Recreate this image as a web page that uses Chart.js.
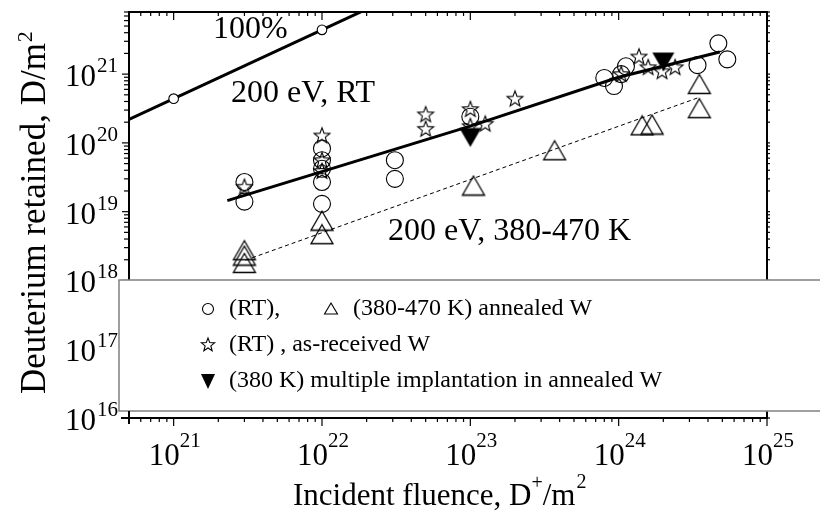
<!DOCTYPE html>
<html><head><meta charset="utf-8">
<script src="https://cdn.jsdelivr.net/npm/chart.js@4.4.0/dist/chart.umd.min.js"></script>
<style>html,body{margin:0;padding:0;background:#fff}</style>
</head><body>
<canvas id="c" width="820" height="515"></canvas>
<script>
// ---------- data ----------
const fluenceRT_annealed  = [3e21,3e21,1e22,1e22,1e22,1e22,1e22,3.1e22,3.1e22,1e23,8.0e23,9.3e23,1.04e24,1.12e24,3.4e24,4.7e24,5.4e24];
const retainedRT_annealed = [2.7e19,1.4e19,8.3e19,5.6e19,4.2e19,2.7e19,1.3e19,5.6e19,3.0e19,2.4e20,8.8e20,6.7e20,1.0e21,1.3e21,1.35e21,2.8e21,1.64e21];
const fluenceHT_annealed  = [3e21,3e21,3e21,1e22,1e22,1.05e23,3.7e23,1.44e24,1.68e24,3.5e24,3.5e24];
const retainedHT_annealed = [2.75e18,2.3e18,1.8e18,7.4e18,4.7e18,2.4e19,7.8e19,1.8e20,1.85e20,7.2e20,3.2e20];
const fluenceRT_asReceived  = [3e21,1e22,1e22,1e22,5e22,5e22,1e23,1e23,1.26e23,2e23,1.04e24,1.37e24,1.58e24,1.96e24,2.4e24];
const retainedRT_asReceived = [2.3e19,1.28e20,5.6e19,3.9e19,2.6e20,1.6e20,3.1e20,1.75e20,1.9e20,4.4e20,1.0e21,1.8e21,1.26e21,1.1e21,1.26e21];
const fluenceMultiple  = [1e23,2.0e24];
const retainedMultiple = [1.2e20,1.5e21];
const fluence100  = [1e21,1e22];
const retained100 = [4.4e20,4.4e21];
const fit100_fluence  = [5e20,2e22];
const fit100_retained = [2.2e20,8.8e21];
const fitRT_fluence  = [2.3e21,1e23,1e24,4.8e24];
const fitRT_retained = [1.45e19,1.75e20,9.0e20,2.1e21];
const fitHT_fluence  = [3.05e21,3.4e24];
const fitHT_retained = [1.97e18,4.5e20];
const xTickExponents = [21,22,23,24,25];
const yTickExponents = [16,17,18,19,20,21];
const annotations = ["100%","200 eV, RT","200 eV, 380-470 K"];
const legendTexts = ["(RT),","(380-470 K) annealed W","(RT) , as-received W","(380 K) multiple implantation in annealed W"];

const pts = (xs, ys) => xs.map((x,i)=>({x, y: ys[i]}));
const SERIF = '"Liberation Serif", "Times New Roman", serif';

// ---------- marker images ----------
function mk(w,h,fn){const c=document.createElement('canvas');c.width=w;c.height=h;const g=c.getContext('2d');fn(g);return c;}
function starPath(g,cx,cy,R,r){g.beginPath();for(let i=0;i<10;i++){const a=-Math.PI/2+i*Math.PI/5;const rr=i%2?r:R;const px=cx+rr*Math.cos(a),py=cy+rr*Math.sin(a);i?g.lineTo(px,py):g.moveTo(px,py);}g.closePath();}
const starImg = mk(20,20,g=>{starPath(g,10,10.5,8.3,3.5);g.lineWidth=1.1;g.strokeStyle='#000';g.stroke();});
const triUpImg = mk(26,22,g=>{g.beginPath();g.moveTo(13,1.5);g.lineTo(24,20.5);g.lineTo(2,20.5);g.closePath();g.lineWidth=1.3;g.strokeStyle='#000';g.stroke();});
const triDownImg = mk(26,22,g=>{g.beginPath();g.moveTo(2,1.5);g.lineTo(24,1.5);g.lineTo(13,20.5);g.closePath();g.fillStyle='#000';g.fill();});

// ---------- frame / text plugin ----------
function line(g,x1,y1,x2,y2){g.beginPath();g.moveTo(x1,y1);g.lineTo(x2,y2);g.stroke();}
const framePlugin = {
  id:'frame',
  beforeDatasetsDraw(chart){
    const g=chart.ctx, a=chart.chartArea, sx=chart.scales.x, sy=chart.scales.y;
    g.save(); g.strokeStyle='#000';
    g.lineWidth=2;
    g.strokeRect(a.left,a.top,a.right-a.left,a.bottom-a.top);
    g.lineWidth=1.2;
    for(let d=20; d<=25; d++){
      for(let m=1; m<=9; m++){
        const v=m*Math.pow(10,d); if(v<sx.min*0.999||v>sx.max*1.001) continue;
        const px=sx.getPixelForValue(v), major=(m===1);
        line(g,px,a.bottom,px,a.bottom+(major?8:4));
        line(g,px,a.top,px,a.top+(major?8:4));
      }
    }
    for(let d=16; d<=21; d++){
      for(let m=1; m<=9; m++){
        const v=m*Math.pow(10,d); if(v<sy.min*0.999||v>sy.max*1.001) continue;
        const py=sy.getPixelForValue(v), major=(m===1);
        line(g,a.left,py,a.left-(major?7:5),py);
        line(g,a.right,py,a.right+3,py);
      }
    }
    g.restore();
  },
  afterDatasetsDraw(chart){
    const g=chart.ctx, a=chart.chartArea, sx=chart.scales.x, sy=chart.scales.y;
    g.save();
    // legend box overlaying the lower plot
    g.fillStyle='#fff'; g.fillRect(119,280,710,131);
    g.strokeStyle='#808080'; g.lineWidth=1.5; g.strokeRect(119,280,710,131);
    g.strokeStyle='#000'; g.lineWidth=2;
    line(g,121,a.bottom,a.right,a.bottom);
    line(g,a.left,411,a.left,a.bottom+6);
    g.fillStyle='#000';
    // y tick labels
    yTickExponents.forEach(e=>{
      const py=sy.getPixelForValue(Math.pow(10,e));
      g.font='21px '+SERIF; g.textAlign='right'; g.textBaseline='alphabetic';
      const ws=g.measureText(String(e)).width;
      g.fillText(String(e),118,py-2);
      g.font='31px '+SERIF;
      g.fillText('10',118-ws-1,py+12);
    });
    // x tick labels
    xTickExponents.forEach(e=>{
      const px=sx.getPixelForValue(Math.pow(10,e));
      g.textAlign='left';
      g.font='31px '+SERIF; const wb=g.measureText('10').width;
      g.font='21px '+SERIF; const ws=g.measureText(String(e)).width;
      const x0=px-(wb+ws)/2+1;
      g.font='31px '+SERIF; g.fillText('10',x0,465);
      g.font='21px '+SERIF; g.fillText(String(e),x0+wb,447);
    });
    // x title
    g.textAlign='left';
    let x=293; const base='Incident fluence, D';
    g.font='31px '+SERIF; g.fillText(base,x,505); x+=g.measureText(base).width;
    g.font='20px '+SERIF; g.fillText('+',x,489); x+=g.measureText('+').width;
    g.font='31px '+SERIF; g.fillText('/m',x,505); x+=g.measureText('/m').width;
    g.font='20px '+SERIF; g.fillText('2',x+1,488);
    // y title
    g.save(); g.translate(45,394); g.rotate(-Math.PI/2);
    g.font='35px '+SERIF; const yt='Deuterium retained, D/m';
    g.fillText(yt,0,0); const wy=g.measureText(yt).width;
    g.font='22px '+SERIF; g.fillText('2',wy+1,-13);
    g.restore();
    // annotations
    g.font='32px '+SERIF; g.textAlign='left';
    g.fillText(annotations[0],213,38);
    g.fillText(annotations[1],231,102);
    g.textAlign='right';
    g.fillText(annotations[2],631,240);
    // legend entries
    g.textAlign='left'; g.textBaseline='middle'; g.font='24px '+SERIF;
    const r1=309, r2=345, r3=381, sxm=208;
    g.strokeStyle='#000'; g.lineWidth=1.1;
    g.beginPath(); g.arc(sxm,r1,5.5,0,Math.PI*2); g.stroke();
    g.fillText(legendTexts[0],229,r1);
    g.beginPath(); g.moveTo(331,r1-6); g.lineTo(337.5,r1+5); g.lineTo(324.5,r1+5); g.closePath(); g.stroke();
    g.fillText(legendTexts[1],353,r1);
    starPath(g,sxm,r2,7,3); g.stroke();
    g.fillText(legendTexts[2],229,r2);
    g.beginPath(); g.moveTo(sxm-7,r3-7); g.lineTo(sxm+7,r3-7); g.lineTo(sxm,r3+8); g.closePath(); g.fill();
    g.fillText(legendTexts[3],229,r3);
    g.restore();
  }
};

const lineDs = (label, xs, ys, w, dash) => ({label, data: pts(xs,ys), showLine:true, pointRadius:0,
  borderColor:'#000', borderWidth:w, borderDash:dash||[], fill:false, tension:0});

new Chart(document.getElementById('c'), {
  type:'scatter',
  data:{datasets:[
    {label:'(380 K) multiple implantation in annealed W', data:pts(fluenceMultiple,retainedMultiple), pointStyle:triDownImg, pointRadius:11},
    {label:'(RT) annealed W', data:pts(fluenceRT_annealed,retainedRT_annealed), pointStyle:'circle', pointRadius:8.5, borderColor:'#000', borderWidth:1.1, backgroundColor:'rgba(0,0,0,0)'},
    {label:'(RT) as-received W', data:pts(fluenceRT_asReceived,retainedRT_asReceived), pointStyle:starImg, pointRadius:10},
    {label:'(380-470 K) annealed W', data:pts(fluenceHT_annealed,retainedHT_annealed), pointStyle:triUpImg, pointRadius:11},
    {label:'100% points', data:pts(fluence100,retained100), pointStyle:'circle', pointRadius:4.8, borderColor:'#000', borderWidth:1.1, backgroundColor:'#fff'},
    lineDs('fit RT', fitRT_fluence, fitRT_retained, 3),
    lineDs('fit 380-470 K', fitHT_fluence, fitHT_retained, 1, [4,3]),
    lineDs('100%', fit100_fluence, fit100_retained, 3)
  ]},
  options:{
    responsive:false, animation:false, devicePixelRatio:1, events:[],
    layout:{padding:{left:129,top:7,right:53,bottom:97}},
    plugins:{legend:{display:false}, tooltip:{enabled:false}},
    scales:{
      x:{type:'logarithmic', min:5e20, max:1e25, display:false},
      y:{type:'logarithmic', min:1e16, max:8e21, display:false}
    }
  },
  plugins:[framePlugin]
});
</script>
</body></html>
